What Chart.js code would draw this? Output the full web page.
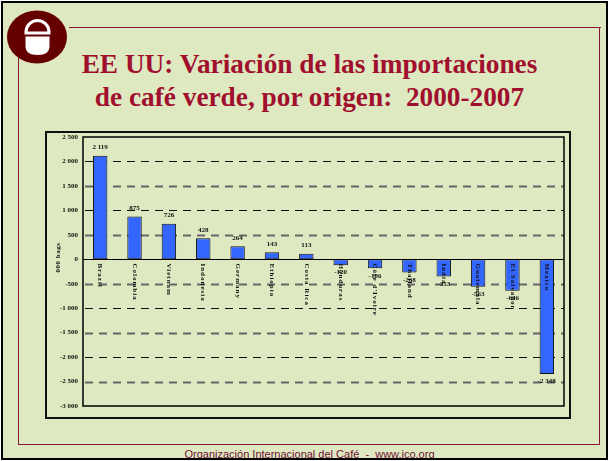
<!DOCTYPE html>
<html>
<head>
<meta charset="utf-8">
<script src="https://cdn.jsdelivr.net/npm/chart.js@4/dist/chart.umd.min.js"></script>
<style>
  html, body { margin: 0; padding: 0; background: #fff; }
  #page { position: absolute; left: 1px; top: 1px; width: 603px; height: 455px; border: 2px solid #000; background: #DFE9C1; overflow: hidden; }
  .frame { position: absolute; background: #8A1538; }
  #title { position: absolute; left: 5px; top: 45px; width: 603px; text-align: center; font-family: "Liberation Serif", serif; font-weight: bold; font-size: 27.3px; line-height: 33px; color: #A0102E; }
  #box { position: absolute; left: 42px; top: 128px; width: 522px; height: 284px; border: 2px solid #111; }
  #myChart { position: absolute; left: 44px; top: 124px; display: block; }
  #footer { position: absolute; left: 5px; top: 445px; width: 603px; text-align: center; font-family: "Liberation Sans", Arial, sans-serif; font-size: 11px; color: #6E1035; }
  #logo { position: absolute; left: 3px; top: 7px; }
</style>
</head>
<body>
<div id="page">
  <div class="frame" style="left:66px; top:24px; width:532px; height:1px;"></div>
  <div class="frame" style="left:596px; top:24px; width:1px; height:418px;"></div>
  <div class="frame" style="left:15px; top:441px; width:582px; height:1px;"></div>
  <div class="frame" style="left:15px; top:50px; width:1px; height:392px;"></div>
  <svg id="logo" width="64" height="56" viewBox="0 0 64 56">
    <ellipse cx="31" cy="27" rx="30" ry="26.5" fill="#650000"/>
    <path d="M20 22 A11.5 11.5 0 0 1 43 22" fill="none" stroke="#fff" stroke-width="3"/>
    <rect x="18.5" y="21.5" width="26" height="3" fill="#fff"/>
    <path d="M19.5 26.5 L43.5 26.5 L43.5 36 Q43.5 45 31.5 45 Q19.5 45 19.5 36 Z" fill="#fff"/>
  </svg>
  <div id="title">EE UU: Variación de las importaciones<br>de café verde, por origen:&nbsp; 2000-2007</div>
  <div id="box"></div>
  <canvas id="myChart" width="522" height="291"></canvas>
  <div id="footer">Organización Internacional del Café&nbsp; -&nbsp; www.ico.org</div>
</div>
<script>
let countries = ["Brazil", "Colombia", "Vietnam", "Indonesia", "Germany", "Ethiopia", "Costa Rica",
    "Honduras", "Côte d'Ivoire", "Thailand", "India", "Guatemala", "El Salvador", "Mexico"];
let changes = [2119, 875, 726, 428, 264, 143, 113, -120, -186, -268, -353, -563, -646, -2348];
let yMin = -3000, yMax = 2500, yStep = 500;
let axisTitle = "000 bags";

const fmt = (n) => {
    let s = String(Math.abs(n)).replace(/\B(?=(\d{3})+(?!\d))/g, " ");
    return (n < 0 ? "-" : "") + s;
}

const serif = "'Liberation Serif', 'Times New Roman', serif";

// dashed grid, zero line and frame drawn from the y scale
const gridPlugin = {
    id: "grid",
    beforeDatasetsDraw(chart) {
        const ctx = chart.ctx, a = chart.chartArea, y = chart.scales.y;
        ctx.save();
        y.ticks.forEach(t => {
            if (t.value == yMax || t.value == yMin || t.value == 0) return;
            const py = Math.round(y.getPixelForValue(t.value)) + 0.5;
            const major = t.value % 1000 == 0;
            ctx.strokeStyle = major ? "#111" : "#666";
            ctx.lineWidth = major ? 1 : 2;
            ctx.setLineDash([8, 6]);
            ctx.beginPath();
            ctx.moveTo(a.left + 2, py);
            ctx.lineTo(a.right, py);
            ctx.stroke();
        });
        ctx.setLineDash([]);
        ctx.strokeStyle = "#000";
        ctx.lineWidth = 1.5;
        ctx.strokeRect(a.left, a.top, a.right - a.left, a.bottom - a.top);
        ctx.restore();
    },
    afterDatasetsDraw(chart) {
        const ctx = chart.ctx, a = chart.chartArea, y = chart.scales.y;
        const y0 = Math.round(y.getPixelForValue(0)) + 0.5;
        ctx.save();
        ctx.strokeStyle = "#000";
        ctx.lineWidth = 1.2;
        ctx.beginPath();
        ctx.moveTo(a.left, y0);
        ctx.lineTo(a.right, y0);
        ctx.stroke();

        const bars = chart.getDatasetMeta(0).data;
        ctx.fillStyle = "#111";
        bars.forEach((bar, i) => {
            // value labels
            ctx.font = "bold 7px " + serif;
            ctx.textAlign = "center";
            if (changes[i] >= 0) {
                ctx.textBaseline = "bottom";
                ctx.fillText(fmt(changes[i]), bar.x, bar.y - 5);
            } else {
                ctx.textBaseline = "top";
                ctx.fillText(fmt(changes[i]), bar.x, bar.y + 4);
            }
            // category labels, rotated, just under the zero line
            ctx.save();
            ctx.translate(bar.x, y0 + 4);
            ctx.rotate(Math.PI / 2);
            ctx.textAlign = "left";
            ctx.textBaseline = "middle";
            ctx.letterSpacing = "1px";
            ctx.fillText(countries[i], 0, 0);
            ctx.restore();
        });

        // y axis title
        ctx.save();
        ctx.translate(11, y0 - 2);
        ctx.rotate(-Math.PI / 2);
        ctx.font = "bold 7px " + serif;
        ctx.textAlign = "center";
        ctx.textBaseline = "middle";
        ctx.letterSpacing = "0.5px";
        ctx.fillText(axisTitle, 0, 0);
        ctx.restore();
        ctx.restore();
    }
};

new Chart("myChart", {
    type: "bar",
    data: {
        labels: countries,
        datasets: [{
            data: changes,
            backgroundColor: "#3366FF",
            borderColor: "#111",
            borderWidth: 1,
            borderSkipped: false,
            barPercentage: 0.42,
            categoryPercentage: 1
        }]
    },
    options: {
        responsive: false,
        animation: false,
        devicePixelRatio: 1,
        layout: { padding: { top: 10, right: 5, bottom: 12, left: 0 } },
        plugins: {
            legend: { display: false },
            tooltip: { enabled: false }
        },
        scales: {
            x: { display: false },
            y: {
                min: yMin,
                max: yMax,
                afterFit(scale) { scale.width = 36; },
                ticks: {
                    stepSize: yStep,
                    padding: 5,
                    color: "#111",
                    font: { family: serif, size: 7, weight: "bold" },
                    callback: (v) => fmt(v)
                },
                grid: { display: false, drawTicks: false },
                border: { display: false }
            }
        }
    },
    plugins: [gridPlugin]
});
</script>
</body>
</html>
